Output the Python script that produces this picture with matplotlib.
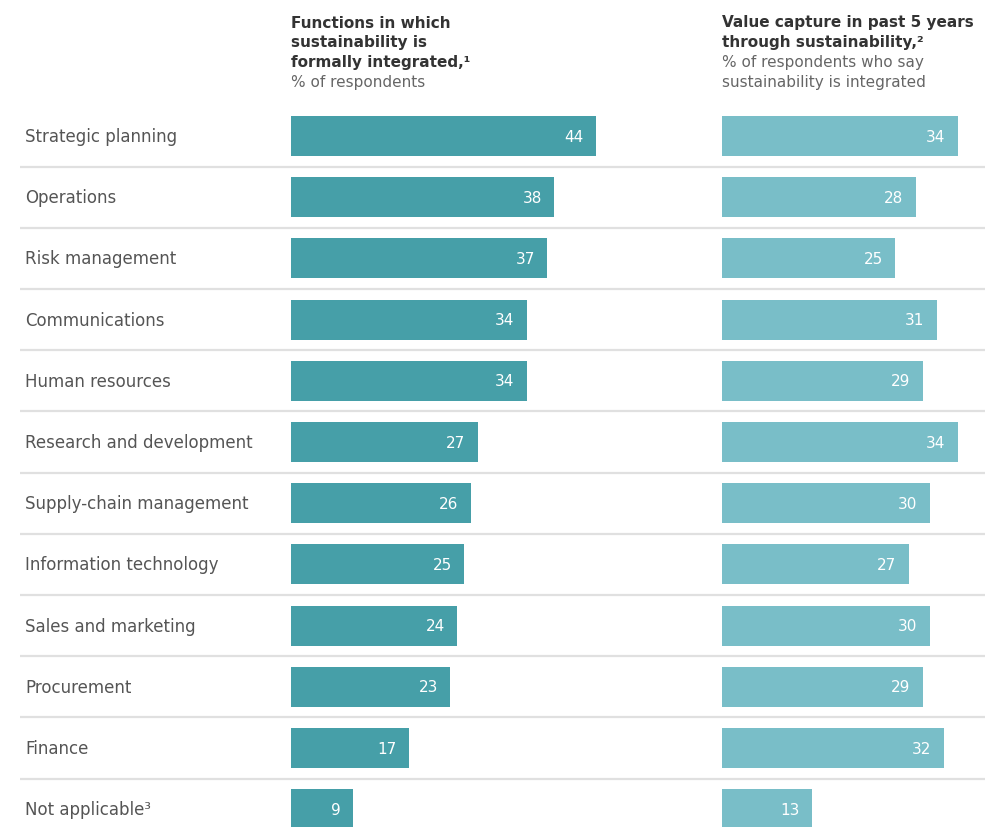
import matplotlib
matplotlib.use("Agg")
import matplotlib.pyplot as plt
import numpy as np

categories = ["Strategic planning", "Operations", "Risk management", "Communications",
              "Human resources", "Research and development", "Supply-chain management",
              "Information technology", "Sales and marketing", "Procurement", "Finance",
              "Not applicable³"]
integrated = [44, 38, 37, 34, 34, 27, 26, 25, 24, 23, 17, 9]
value_capture = [34, 28, 25, 31, 29, 34, 30, 27, 30, 29, 32, 13]

left_title = ["Functions in which", "sustainability is", "formally integrated,¹"]
left_sub = ["% of respondents"]
right_title = ["Value capture in past 5 years", "through sustainability,²"]
right_sub = ["% of respondents who say", "sustainability is integrated"]

plt.rcParams['font.family'] = ['DejaVu Sans']

W, H = 985, 828
fig = plt.figure(figsize=(W / 100, H / 100), dpi=100)
fig.patch.set_facecolor("white")

row0_px = 137.0
row_step = 61.2
top_px = 100.0
ytop = (top_px - row0_px) / row_step
ybot = (H - row0_px) / row_step
ax_top = 1 - top_px / H

px_per_unit = 6.93
c_left = "#469fa8"
c_right = "#79bec8"
y = np.arange(len(categories))
bar_h = 40 / row_step

# background axis for separators and labels
bg = fig.add_axes([0, 0, 1, ax_top])
bg.set_xlim(0, W)
bg.set_ylim(ybot, ytop)
bg.axis("off")
for i in range(len(categories) - 1):
    bg.plot([20, W], [i + 0.5, i + 0.5], color="#e0e0e0", lw=1.6, solid_capstyle="butt")
for i, c in enumerate(categories):
    bg.text(25, i, c, ha="left", va="center", fontsize=12, color="#555555")

def panel(x0_px, x1_px, vals, color):
    ax = fig.add_axes([x0_px / W, 0, (x1_px - x0_px) / W, ax_top])
    ax.set_xlim(0, (x1_px - x0_px) / px_per_unit)
    ax.set_ylim(ybot, ytop)
    ax.axis("off")
    ax.patch.set_alpha(0)
    ax.barh(y, vals, height=bar_h, color=color)
    for yi, v in zip(y, vals):
        ax.annotate(str(v), (v, yi), xytext=(-9, 0), textcoords="offset points",
                    ha="right", va="center", color="white", fontsize=11)
    return ax

panel(291, 710, integrated, c_left)
panel(722, W, value_capture, c_right)

def header(x_px, bold_lines, sub_lines):
    ypx = 23
    for t in bold_lines:
        fig.text(x_px / W, 1 - ypx / H, t, ha="left", va="center", fontsize=11,
                 fontweight="bold", color="#333333")
        ypx += 20
    for t in sub_lines:
        fig.text(x_px / W, 1 - ypx / H, t, ha="left", va="center", fontsize=11,
                 color="#666666")
        ypx += 20

header(291, left_title, left_sub)
header(722, right_title, right_sub)

fig.savefig("out.png", dpi=100, facecolor="white")
